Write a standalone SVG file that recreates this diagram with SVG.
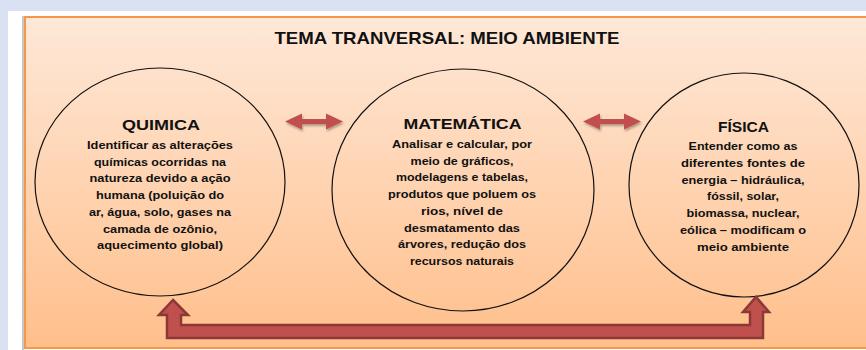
<svg xmlns="http://www.w3.org/2000/svg" width="866" height="350" viewBox="0 0 866 350">
  <defs>
    <linearGradient id="bg" x1="0" y1="0" x2="0" y2="1">
      <stop offset="0" stop-color="#fee8d8"/>
      <stop offset="1" stop-color="#ffbf8b"/>
    </linearGradient>
    <filter id="sh" x="-20%" y="-40%" width="140%" height="180%">
      <feDropShadow dx="1" dy="2" stdDeviation="1.2" flood-color="#000" flood-opacity="0.3"/>
    </filter>
    <style>
      .ttl{font-family:"Liberation Sans",Arial,sans-serif;font-weight:bold;fill:#111;text-anchor:middle}
      .hd{font-family:"Liberation Sans",Arial,sans-serif;font-weight:bold;font-size:15px;fill:#111;text-anchor:middle}
      .bd{font-family:"Liberation Sans",Arial,sans-serif;font-weight:bold;font-size:11px;fill:#111;text-anchor:middle}
      .circ{fill:none;stroke:#111;stroke-width:1.2}
      .arr{fill:#c0504d;filter:url(#sh)}
    </style>
  </defs>
  <rect x="0" y="0" width="866" height="350" fill="#d9e1f2"/>
  <rect x="8" y="11" width="858" height="339" fill="#ffffff"/>
  <rect x="22" y="16" width="2" height="334" fill="#c8c8c8"/>
  <rect x="25" y="17" width="845" height="331" fill="url(#bg)" stroke="#f79646" stroke-width="2"/>

  <text class="ttl" x="447" y="44" font-size="17" textLength="345" lengthAdjust="spacingAndGlyphs">TEMA TRANVERSAL: MEIO AMBIENTE</text>

  <g id="quimica">
    <ellipse class="circ" cx="160" cy="182" rx="125" ry="114"/>
    <text class="hd" x="161" y="130" textLength="78" lengthAdjust="spacingAndGlyphs">QUIMICA</text>
    <text class="bd" x="160" y="149" textLength="146" lengthAdjust="spacingAndGlyphs">Identificar as alterações</text>
    <text class="bd" x="160" y="165.7" textLength="132" lengthAdjust="spacingAndGlyphs">químicas ocorridas na</text>
    <text class="bd" x="160" y="182.4" textLength="141" lengthAdjust="spacingAndGlyphs">natureza devido a ação</text>
    <text class="bd" x="160" y="199.1" textLength="128" lengthAdjust="spacingAndGlyphs">humana (poluição do</text>
    <text class="bd" x="160" y="215.8" textLength="142" lengthAdjust="spacingAndGlyphs">ar, água, solo, gases na</text>
    <text class="bd" x="160" y="232.5" textLength="114" lengthAdjust="spacingAndGlyphs">camada de ozônio,</text>
    <text class="bd" x="160" y="249.2" textLength="126" lengthAdjust="spacingAndGlyphs">aquecimento global)</text>
  </g>

  <g id="matematica">
    <ellipse class="circ" cx="463" cy="190" rx="131" ry="121"/>
    <text class="hd" x="462.5" y="129" textLength="118" lengthAdjust="spacingAndGlyphs">MATEMÁTICA</text>
    <text class="bd" x="462" y="148" textLength="140" lengthAdjust="spacingAndGlyphs">Analisar e calcular, por</text>
    <text class="bd" x="462" y="164.7" textLength="103" lengthAdjust="spacingAndGlyphs">meio de gráficos,</text>
    <text class="bd" x="462" y="181.4" textLength="132" lengthAdjust="spacingAndGlyphs">modelagens e tabelas,</text>
    <text class="bd" x="462" y="198.1" textLength="148" lengthAdjust="spacingAndGlyphs">produtos que poluem os</text>
    <text class="bd" x="462" y="214.8" textLength="82" lengthAdjust="spacingAndGlyphs">rios, nível de</text>
    <text class="bd" x="462" y="231.5" textLength="116" lengthAdjust="spacingAndGlyphs">desmatamento das</text>
    <text class="bd" x="462" y="248.2" textLength="128" lengthAdjust="spacingAndGlyphs">árvores, redução dos</text>
    <text class="bd" x="462" y="264.9" textLength="104" lengthAdjust="spacingAndGlyphs">recursos naturais</text>
  </g>

  <g id="fisica">
    <ellipse class="circ" cx="744" cy="185" rx="115" ry="112"/>
    <text class="hd" x="743.5" y="132" textLength="51" lengthAdjust="spacingAndGlyphs">FÍSICA</text>
    <text class="bd" x="743" y="150" textLength="109" lengthAdjust="spacingAndGlyphs">Entender como as</text>
    <text class="bd" x="743" y="166.8" textLength="124" lengthAdjust="spacingAndGlyphs">diferentes fontes de</text>
    <text class="bd" x="743" y="183.6" textLength="123" lengthAdjust="spacingAndGlyphs">energia – hidráulica,</text>
    <text class="bd" x="743" y="200.4" textLength="72" lengthAdjust="spacingAndGlyphs">fóssil, solar,</text>
    <text class="bd" x="743" y="217.2" textLength="113" lengthAdjust="spacingAndGlyphs">biomassa, nuclear,</text>
    <text class="bd" x="743" y="234" textLength="126" lengthAdjust="spacingAndGlyphs">eólica – modificam o</text>
    <text class="bd" x="743" y="250.8" textLength="92" lengthAdjust="spacingAndGlyphs">meio ambiente</text>
  </g>

  <g id="connectors">
    <polygon class="arr" points="285,121.5 302,113.5 302,119 326,119 326,113.5 343,121.5 326,129.5 326,124 302,124 302,129.5"/>
    <polygon class="arr" points="583,121.5 600,113.5 600,119 624,119 624,113.5 641,121.5 624,129.5 624,124 600,124 600,129.5"/>
    <polygon points="173,300 188,315 181,315 181,325 750,325 750,312 743,312 756,297 769,312 763,312 763,338 167,338 167,315 159,315" fill="#c0504d" stroke="#8c3836" stroke-width="2.5" stroke-linejoin="miter"/>
  </g>
</svg>
